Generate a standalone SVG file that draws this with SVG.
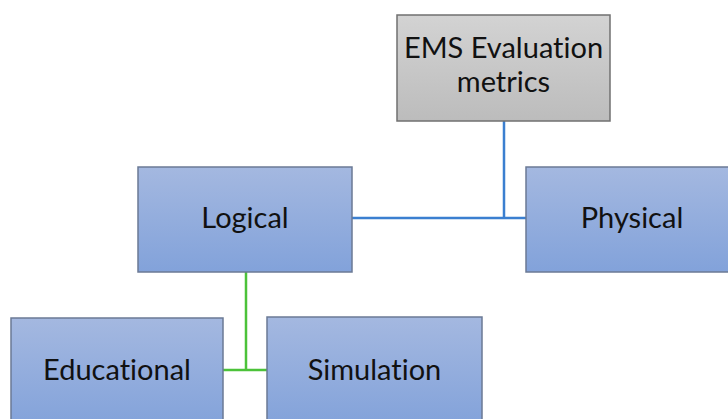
<svg xmlns="http://www.w3.org/2000/svg" width="728" height="419" viewBox="0 0 728 419">
<defs>
<linearGradient id="blue" x1="0" y1="0" x2="0" y2="1">
<stop offset="0" stop-color="#a4b8e0"/>
<stop offset="1" stop-color="#82a2da"/>
</linearGradient>
<linearGradient id="gray" x1="0" y1="0" x2="0" y2="1">
<stop offset="0" stop-color="#d3d3d3"/>
<stop offset="1" stop-color="#bcbcbc"/>
</linearGradient>
<style>
.b{fill:url(#blue);stroke:#6b7a95;stroke-width:1.5}
.g{fill:url(#gray);stroke:#707070;stroke-width:1.5}
text{font-family:Lato,"Open Sans","Liberation Sans",sans-serif;font-size:29px;fill:#111;text-anchor:middle;font-variant-ligatures:none}
.cb{stroke:#3b7fd0;stroke-width:2.5;fill:none}
.cg{stroke:#4cc23a;stroke-width:2.5;fill:none}
</style>
</defs>
<rect width="728" height="419" fill="#fff"/>
<g id="connectors">
<path class="cb" d="M504 121V218M352 218H526"/>
<path class="cg" d="M246 272V370M223 370H267"/>
</g>
<g id="ems">
<rect class="g" x="397" y="15" width="213" height="106"/>
<text x="503.5" y="58">EMS Evaluation</text>
<text x="503.5" y="92">metrics</text>
</g>
<g id="logical">
<rect class="b" x="138" y="167" width="214" height="105"/>
<text x="245" y="228">Logical</text>
</g>
<g id="physical">
<rect class="b" x="526" y="167" width="210" height="105"/>
<text x="632" y="228">Physical</text>
</g>
<g id="educational">
<rect class="b" x="11" y="318" width="212" height="110"/>
<text x="117" y="380">Educational</text>
</g>
<g id="simulation">
<rect class="b" x="267" y="317" width="215" height="110"/>
<text x="374.5" y="380">Simulation</text>
</g>
</svg>
